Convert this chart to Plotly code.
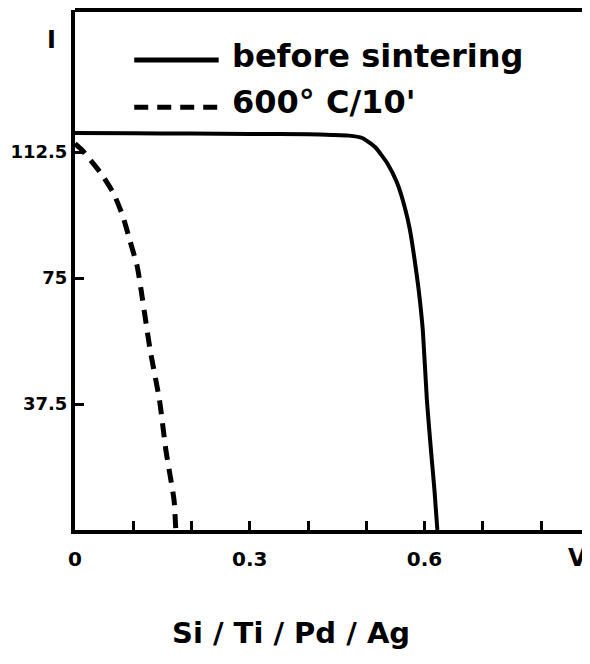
import plotly.graph_objects as go

# Data
v_before = [0.0, 0.1, 0.2, 0.3, 0.4, 0.442, 0.47, 0.493, 0.515, 0.536, 0.553, 0.566, 0.575,
            0.583, 0.590, 0.597, 0.604, 0.611, 0.617, 0.622]
i_before = [118.2, 118.1, 118.0, 117.9, 117.8, 117.6, 117.4, 116.7, 114.0, 109.2, 103.3, 96.1, 89.3,
            80.4, 71.4, 59.5, 38.7, 23.8, 11.9, 0.0]

v_sinter = [0.0, 0.012, 0.044, 0.066, 0.082, 0.095, 0.107, 0.116, 0.129, 0.145, 0.156, 0.170, 0.173]
i_sinter = [115.0, 113.1, 106.3, 100.3, 93.5, 85.7, 78.3, 68.5, 53.6, 38.7, 23.8, 8.9, 0.0]

x_ticks = [0.0, 0.1, 0.2, 0.3, 0.4, 0.5, 0.6, 0.7, 0.8]
x_labels = ["0", "", "", "0.3", "", "", "0.6", "", ""]
y_ticks = [37.5, 75, 112.5]
y_labels = ["37.5", "75", "112.5"]

series_names = ["before sintering", "600° C/10'"]

FONT = "DejaVu Sans"
INK = "black"
DASH = "14px,9px"

fig = go.Figure()
fig.add_trace(go.Scatter(x=v_before, y=i_before, mode="lines", name=series_names[0],
                         line=dict(color=INK, width=4, shape="spline", smoothing=0.5),
                         showlegend=False))
fig.add_trace(go.Scatter(x=v_sinter, y=i_sinter, mode="lines", name=series_names[1],
                         line=dict(color=INK, width=5, dash=DASH, shape="spline", smoothing=0.5),
                         showlegend=False))

# legend drawn by hand, like the original
line_y = [0.904, 0.813]
text_y = [0.912, 0.823]
dashes = ["solid", DASH]
for k in range(2):
    fig.add_shape(type="line", xref="paper", yref="paper",
                  x0=0.115, x1=0.279, y0=line_y[k], y1=line_y[k],
                  line=dict(color=INK, width=5, dash=dashes[k]))
    fig.add_annotation(xref="paper", yref="paper", x=0.30, y=text_y[k],
                       text="<b>%s</b>" % series_names[k], showarrow=False,
                       xanchor="left", yanchor="middle",
                       font=dict(family=FONT, size=32, color=INK))

# top border
fig.add_shape(type="line", xref="paper", yref="paper", x0=0, x1=1, y0=1, y1=1,
              line=dict(color=INK, width=4))

fig.add_annotation(xref="paper", yref="paper", x=-0.046, y=0.942, text="<b>I</b>",
                   xanchor="center", yanchor="middle",
                   showarrow=False, font=dict(family=FONT, size=24, color=INK))
fig.add_annotation(xref="paper", yref="paper", x=0.999, y=-0.054, text="<b>V</b>",
                   xanchor="right", yanchor="middle",
                   showarrow=False, font=dict(family=FONT, size=24, color=INK))
fig.add_annotation(xref="paper", yref="paper", x=0.419, y=-0.198, text="<b>Si / Ti / Pd / Ag</b>",
                   xanchor="center", yanchor="middle",
                   showarrow=False, font=dict(family=FONT, size=29, color=INK))

fig.update_layout(
    width=590, height=664,
    margin=dict(l=62, r=8, t=2, b=142),
    paper_bgcolor="white", plot_bgcolor="white",
    showlegend=False,
    xaxis=dict(range=[0, 0.884], tickvals=x_ticks,
               ticktext=["<b>%s</b>" % t if t else "" for t in x_labels],
               showgrid=False, zeroline=False, showline=True, linecolor=INK, linewidth=4,
               ticks="inside", ticklen=9, tickwidth=3, tickcolor=INK,
               ticklabelstandoff=8,
               tickfont=dict(family=FONT, size=20, color=INK)),
    yaxis=dict(range=[0, 154.8], tickvals=y_ticks, ticktext=["<b>%s</b>" % t for t in y_labels],
               showgrid=False, zeroline=False, showline=True, linecolor=INK, linewidth=4,
               ticks="inside", ticklen=9, tickwidth=3, tickcolor=INK,
               tickfont=dict(family=FONT, size=18, color=INK)),
)

fig.write_html("out.html")
